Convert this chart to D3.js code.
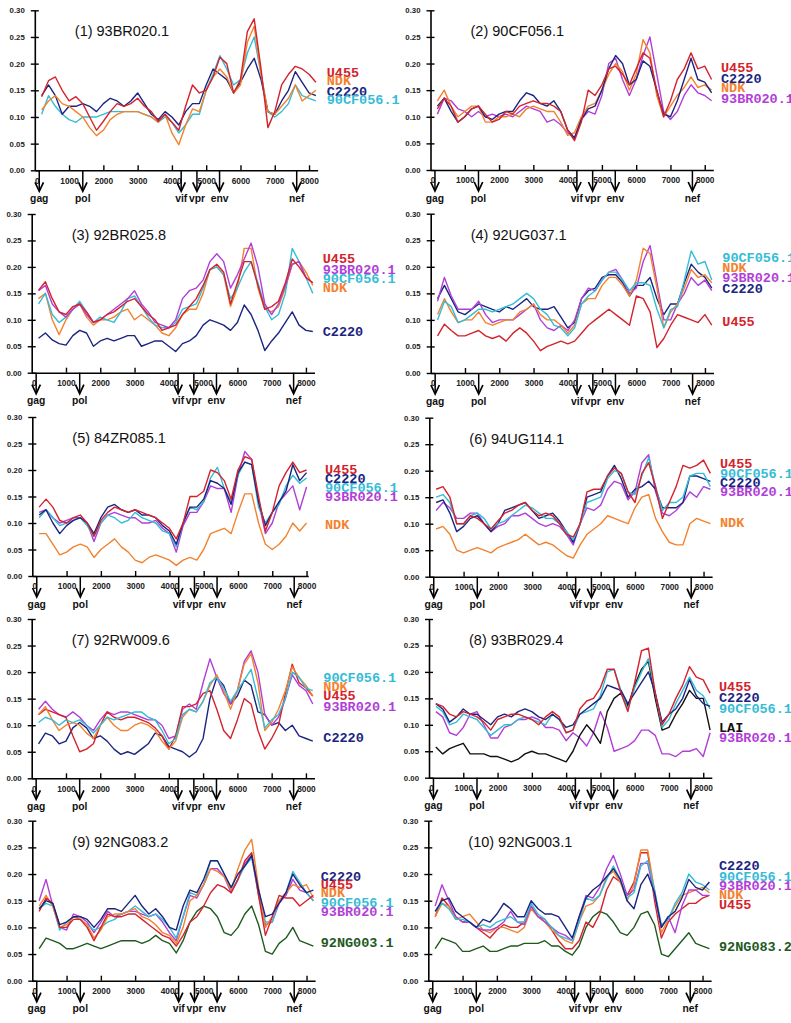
<!DOCTYPE html>
<html><head><meta charset="utf-8">
<script src="https://cdn.jsdelivr.net/npm/d3@7"></script>
<style>
html,body{margin:0;padding:0;background:#fff;}
svg{display:block;}
</style></head><body>
<svg id="chart" width="791" height="1023"></svg>
<script>
// ---------- sample positions (bp) ----------
const positions = [200,400,600,800,1000,1200,1400,1600,1800,2000,2200,2400,2600,2800,3000,3200,3400,3600,3800,4000,4200,4400,4600,4800,5000,5200,5400,5600,5800,6000,6200,6400,6600,6800,7000,7200,7400,7600,7800,8000,8200];
const xTicks = [0,1000,2000,3000,4000,5000,6000,7000,8000];
const yTicks = [0,0.05,0.10,0.15,0.20,0.25,0.30];
const genes = ["gag","pol","vif","vpr","env","nef"];
const genePos = [130,1400,4270,4730,5390,7640];

// ---------- panel 1: 93BR020.1 ----------
const p1_U455 = [.138,.168,.175,.150,.130,.138,.125,.100,.075,.092,.110,.125,.120,.125,.135,.120,.110,.092,.105,.090,.075,.120,.160,.145,.150,.175,.212,.200,.145,.170,.260,.284,.190,.080,.110,.160,.180,.195,.190,.180,.165];
const p1_NDK = [.113,.130,.140,.125,.120,.110,.100,.080,.065,.075,.095,.105,.110,.110,.110,.105,.100,.090,.105,.070,.048,.085,.115,.110,.150,.175,.190,.175,.145,.160,.240,.270,.180,.110,.105,.120,.135,.160,.130,.140,.150];
const p1_C2220 = [.140,.160,.140,.105,.120,.120,.125,.120,.110,.125,.135,.130,.120,.130,.145,.125,.105,.095,.110,.100,.085,.110,.125,.125,.160,.190,.180,.170,.145,.165,.190,.210,.170,.110,.105,.130,.150,.185,.165,.145,.140];
const p1_90CF = [.105,.140,.120,.105,.095,.090,.100,.100,.100,.105,.110,.110,.110,.110,.110,.105,.100,.090,.100,.090,.070,.085,.105,.105,.150,.180,.215,.190,.160,.170,.220,.250,.180,.110,.100,.110,.125,.160,.140,.135,.130];

// ---------- panel 2: 90CF056.1 ----------
const p2_U455 = [.115,.135,.120,.090,.100,.115,.120,.105,.090,.095,.110,.105,.120,.125,.130,.125,.125,.120,.110,.075,.055,.090,.150,.140,.160,.190,.195,.180,.160,.190,.220,.210,.150,.100,.130,.170,.190,.220,.190,.195,.170];
const p2_C2220 = [.120,.135,.110,.090,.100,.115,.120,.100,.095,.105,.110,.110,.130,.145,.140,.125,.120,.130,.110,.075,.060,.095,.115,.120,.150,.190,.215,.200,.160,.170,.205,.195,.150,.105,.100,.130,.170,.210,.170,.165,.145];
const p2_NDK = [.130,.150,.120,.100,.110,.120,.120,.090,.090,.100,.100,.105,.100,.115,.120,.115,.110,.110,.090,.065,.070,.100,.120,.125,.150,.180,.200,.185,.150,.180,.245,.220,.140,.100,.120,.140,.155,.175,.155,.160,.150];
const p2_93BR = [.105,.135,.130,.115,.110,.100,.110,.100,.105,.100,.105,.100,.110,.120,.115,.110,.090,.095,.085,.070,.060,.095,.110,.105,.140,.200,.210,.170,.140,.170,.215,.250,.180,.110,.095,.110,.140,.160,.145,.140,.130];

// ---------- panel 3: 92BR025.8 ----------
const p3_U455 = [.156,.172,.140,.115,.110,.125,.130,.115,.095,.100,.110,.115,.125,.135,.140,.125,.110,.100,.080,.085,.090,.110,.125,.140,.165,.195,.205,.190,.130,.170,.210,.210,.165,.120,.125,.135,.170,.215,.200,.180,.170];
const p3_93BR = [.155,.165,.130,.115,.105,.120,.130,.110,.095,.100,.110,.120,.130,.140,.155,.130,.115,.095,.090,.085,.100,.140,.155,.160,.175,.210,.225,.210,.160,.185,.215,.245,.200,.130,.110,.130,.165,.205,.210,.180,.170];
const p3_90CF = [.130,.150,.110,.095,.105,.120,.135,.115,.095,.105,.100,.095,.115,.140,.145,.125,.105,.090,.085,.085,.095,.120,.125,.130,.160,.195,.200,.185,.140,.160,.190,.210,.170,.125,.100,.110,.150,.235,.210,.180,.150];
const p3_NDK = [.140,.150,.100,.072,.100,.120,.130,.105,.090,.100,.100,.105,.115,.120,.100,.110,.100,.090,.075,.070,.085,.110,.120,.120,.150,.195,.200,.185,.125,.160,.235,.235,.160,.120,.115,.125,.160,.205,.210,.190,.165];
const p3_C2220 = [.065,.075,.062,.055,.052,.070,.080,.075,.050,.060,.065,.060,.065,.070,.070,.050,.055,.060,.060,.050,.040,.055,.060,.070,.090,.100,.095,.090,.080,.095,.128,.110,.080,.042,.060,.075,.095,.115,.090,.080,.078];

// ---------- panel 4: 92UG037.1 ----------
const p4_90CF = [.100,.135,.125,.095,.100,.110,.120,.120,.115,.120,.125,.130,.140,.150,.140,.120,.110,.090,.085,.070,.085,.130,.145,.155,.175,.190,.190,.175,.155,.170,.170,.165,.120,.085,.120,.125,.175,.230,.205,.210,.175];
const p4_NDK = [.110,.140,.115,.095,.100,.100,.115,.095,.090,.095,.100,.100,.115,.120,.130,.110,.100,.100,.090,.075,.090,.130,.140,.140,.165,.180,.180,.165,.145,.175,.235,.225,.160,.085,.115,.130,.160,.195,.180,.185,.170];
const p4_93BR = [.135,.180,.145,.120,.120,.120,.135,.110,.095,.100,.100,.100,.110,.120,.130,.100,.085,.080,.090,.080,.100,.140,.160,.155,.175,.190,.195,.175,.150,.160,.210,.240,.170,.100,.100,.130,.150,.180,.165,.175,.155];
const p4_C2220 = [.140,.165,.140,.115,.110,.120,.130,.125,.120,.115,.125,.120,.130,.140,.125,.120,.120,.125,.105,.085,.095,.140,.155,.160,.180,.185,.185,.170,.145,.165,.165,.180,.140,.110,.130,.130,.170,.205,.190,.180,.160];
const p4_U455 = [.070,.092,.080,.070,.070,.075,.080,.070,.065,.070,.060,.075,.085,.075,.060,.042,.050,.055,.060,.055,.060,.075,.090,.100,.110,.120,.110,.100,.090,.145,.140,.115,.048,.065,.090,.110,.105,.100,.095,.110,.090];

// ---------- panel 5: 84ZR085.1 ----------
const p5_U455 = [.130,.145,.130,.105,.100,.110,.115,.100,.075,.105,.120,.130,.125,.120,.125,.120,.115,.110,.100,.090,.070,.100,.150,.150,.160,.200,.195,.180,.145,.200,.225,.220,.150,.085,.120,.170,.195,.215,.195,.200];
const p5_C2220 = [.115,.125,.100,.080,.095,.105,.110,.100,.080,.110,.130,.135,.125,.120,.125,.115,.115,.110,.095,.085,.060,.100,.130,.130,.145,.180,.175,.165,.135,.195,.215,.210,.140,.095,.120,.140,.160,.210,.180,.195];
const p5_90CF = [.110,.125,.110,.095,.100,.105,.110,.095,.075,.100,.115,.110,.100,.105,.120,.110,.105,.100,.085,.080,.055,.100,.130,.125,.140,.185,.205,.165,.140,.190,.215,.210,.130,.100,.120,.135,.170,.190,.175,.185];
const p5_93BR = [.120,.125,.110,.100,.105,.110,.110,.100,.065,.100,.115,.120,.115,.110,.110,.100,.100,.105,.090,.080,.045,.095,.120,.120,.140,.170,.165,.165,.120,.190,.235,.220,.140,.080,.100,.140,.155,.170,.125,.168];
const p5_NDK = [.080,.080,.060,.040,.045,.055,.060,.055,.035,.050,.060,.070,.055,.045,.030,.025,.035,.040,.035,.030,.020,.030,.035,.030,.050,.080,.085,.090,.080,.120,.155,.155,.100,.060,.050,.060,.075,.100,.085,.100];

// ---------- panel 6: 94UG114.1 ----------
const p6_U455 = [.165,.170,.150,.100,.100,.115,.110,.100,.090,.105,.120,.125,.135,.140,.125,.115,.120,.115,.100,.080,.075,.100,.160,.165,.165,.190,.205,.195,.160,.140,.195,.215,.170,.110,.140,.170,.210,.205,.210,.220,.195];
const p6_90CF = [.150,.155,.140,.100,.100,.115,.120,.110,.090,.100,.105,.115,.125,.135,.130,.120,.110,.110,.100,.085,.070,.100,.140,.145,.150,.185,.200,.195,.160,.155,.190,.225,.170,.125,.140,.140,.150,.190,.195,.195,.170];
const p6_C2220 = [.140,.145,.120,.085,.095,.110,.115,.100,.085,.100,.125,.130,.135,.140,.125,.110,.115,.120,.105,.085,.065,.100,.150,.155,.160,.190,.210,.185,.150,.165,.170,.180,.165,.130,.130,.130,.140,.190,.190,.185,.180];
const p6_93BR = [.125,.140,.130,.110,.110,.120,.120,.100,.085,.095,.100,.115,.115,.120,.110,.100,.095,.100,.095,.080,.060,.100,.130,.125,.135,.165,.180,.175,.145,.160,.215,.230,.160,.120,.115,.125,.140,.160,.150,.170,.165];
const p6_NDK = [.090,.095,.080,.050,.045,.050,.055,.050,.045,.055,.060,.065,.070,.080,.070,.060,.065,.060,.050,.040,.035,.060,.080,.090,.100,.115,.110,.105,.100,.130,.150,.155,.110,.085,.065,.060,.060,.100,.110,.105,.100];

// ---------- panel 7: 92RW009.6 ----------
const p7_90CF = [.105,.115,.110,.100,.110,.105,.110,.100,.085,.100,.115,.110,.115,.120,.125,.125,.115,.110,.090,.065,.075,.120,.130,.125,.145,.180,.190,.170,.145,.165,.185,.205,.150,.095,.110,.120,.150,.200,.190,.170,.165];
const p7_NDK = [.120,.135,.110,.090,.100,.105,.100,.085,.075,.100,.115,.100,.090,.090,.100,.105,.100,.090,.070,.055,.070,.115,.130,.125,.145,.175,.195,.165,.130,.165,.215,.235,.180,.090,.105,.130,.165,.210,.190,.175,.155];
const p7_U455 = [.120,.130,.125,.120,.115,.080,.050,.055,.065,.100,.125,.115,.110,.115,.115,.110,.105,.095,.080,.055,.080,.135,.135,.140,.160,.165,.130,.090,.075,.110,.150,.140,.090,.055,.075,.100,.160,.215,.180,.170,.155];
const p7_93BR = [.130,.145,.130,.120,.115,.125,.115,.100,.090,.110,.125,.120,.125,.125,.120,.115,.110,.110,.100,.075,.080,.130,.140,.130,.180,.225,.190,.160,.140,.165,.220,.240,.200,.120,.100,.115,.150,.195,.175,.165,.140];
const p7_C2220 = [.065,.085,.080,.065,.070,.095,.105,.095,.075,.080,.070,.055,.045,.050,.045,.055,.065,.085,.080,.060,.055,.050,.040,.050,.075,.150,.190,.175,.140,.155,.185,.175,.125,.120,.100,.105,.090,.100,.080,.075,.070];

// ---------- panel 8: 93BR029.4 ----------
const p8_U455 = [.140,.135,.120,.115,.125,.120,.115,.105,.090,.110,.115,.120,.120,.115,.110,.100,.115,.125,.115,.085,.090,.130,.145,.150,.170,.205,.205,.160,.125,.180,.240,.245,.160,.100,.120,.150,.175,.210,.190,.185,.160];
const p8_C2220 = [.140,.130,.105,.115,.130,.120,.120,.110,.100,.115,.120,.115,.125,.130,.125,.115,.110,.120,.110,.095,.100,.120,.130,.140,.150,.175,.170,.165,.140,.160,.180,.200,.160,.105,.120,.130,.150,.185,.155,.140,.135];
const p8_90CF = [.135,.125,.100,.105,.120,.115,.110,.095,.080,.090,.100,.100,.110,.115,.110,.105,.100,.120,.110,.085,.090,.120,.125,.130,.155,.200,.205,.165,.130,.170,.200,.225,.160,.095,.110,.140,.165,.190,.165,.155,.130];
const p8_LAI = [.058,.045,.055,.060,.065,.045,.045,.045,.040,.040,.035,.030,.035,.045,.050,.045,.045,.040,.035,.030,.050,.080,.100,.085,.065,.125,.150,.160,.135,.175,.205,.220,.150,.090,.095,.120,.140,.165,.150,.150,.090];
const p8_93BR = [.125,.115,.085,.080,.095,.120,.125,.100,.075,.075,.095,.100,.110,.110,.115,.110,.095,.095,.090,.070,.085,.075,.060,.085,.125,.095,.050,.055,.060,.070,.090,.090,.080,.045,.045,.040,.050,.050,.055,.040,.085];

// ---------- panel 9: 92NG083.2 ----------
const p9_C2220 = [.135,.150,.145,.105,.110,.120,.120,.115,.100,.115,.135,.135,.130,.145,.160,.140,.125,.135,.120,.100,.095,.140,.170,.165,.190,.225,.225,.200,.175,.200,.215,.235,.170,.120,.125,.145,.165,.200,.180,.165,.170];
const p9_U455 = [.130,.155,.145,.100,.100,.115,.115,.100,.075,.100,.125,.120,.120,.125,.125,.115,.105,.095,.085,.080,.065,.085,.110,.120,.140,.165,.180,.175,.165,.190,.225,.240,.160,.085,.120,.160,.155,.155,.140,.150,.160];
const p9_NDK = [.140,.160,.140,.100,.105,.120,.115,.105,.080,.095,.120,.125,.125,.130,.135,.120,.115,.105,.090,.085,.070,.100,.150,.160,.180,.210,.205,.195,.170,.210,.245,.265,.175,.100,.120,.150,.165,.180,.175,.180,.155];
const p9_90CF = [.135,.145,.140,.095,.110,.120,.115,.105,.095,.100,.110,.115,.125,.130,.140,.130,.120,.125,.115,.100,.080,.120,.165,.160,.180,.225,.225,.200,.170,.190,.215,.230,.165,.110,.110,.150,.165,.205,.185,.165,.150];
const p9_93BR = [.150,.190,.140,.100,.095,.125,.120,.110,.090,.110,.130,.120,.125,.130,.130,.125,.120,.125,.110,.090,.075,.120,.160,.155,.180,.210,.210,.195,.165,.190,.220,.235,.160,.105,.110,.145,.160,.190,.170,.165,.150];
const p9_NG003 = [.060,.080,.075,.070,.060,.060,.065,.070,.065,.060,.065,.070,.075,.075,.075,.070,.075,.085,.075,.070,.052,.075,.110,.130,.140,.135,.120,.090,.085,.100,.125,.140,.105,.055,.050,.070,.080,.100,.075,.070,.065];

// ---------- panel 10: 92NG003.1 ----------
const p10_C2220 = [.130,.150,.155,.130,.120,.110,.100,.115,.110,.125,.145,.135,.120,.120,.150,.135,.125,.125,.120,.100,.080,.120,.155,.170,.180,.195,.210,.190,.150,.135,.180,.200,.165,.100,.120,.130,.155,.190,.175,.170,.185];
const p10_90CF = [.130,.145,.135,.115,.115,.110,.100,.105,.100,.110,.115,.120,.110,.110,.145,.125,.115,.100,.085,.080,.075,.110,.155,.150,.160,.190,.215,.190,.155,.165,.215,.225,.170,.105,.115,.145,.165,.200,.185,.180,.170];
const p10_93BR = [.140,.180,.150,.120,.110,.110,.100,.095,.095,.100,.110,.130,.110,.105,.140,.120,.110,.100,.090,.085,.075,.120,.160,.155,.175,.210,.235,.200,.160,.170,.220,.220,.160,.100,.120,.090,.140,.170,.170,.160,.160];
const p10_NDK = [.120,.145,.140,.115,.120,.125,.110,.095,.090,.100,.100,.095,.090,.100,.135,.120,.110,.095,.085,.075,.070,.110,.140,.145,.160,.195,.205,.185,.150,.180,.245,.245,.170,.090,.115,.140,.160,.165,.170,.175,.165];
const p10_U455 = [.120,.155,.140,.120,.110,.110,.100,.090,.080,.095,.105,.100,.100,.110,.140,.120,.115,.095,.075,.060,.060,.075,.110,.100,.125,.170,.195,.185,.160,.185,.240,.240,.150,.080,.110,.125,.135,.145,.145,.155,.160];
const p10_NG083 = [.060,.080,.075,.070,.055,.055,.060,.065,.055,.055,.060,.065,.065,.070,.070,.070,.075,.065,.065,.055,.048,.065,.100,.120,.130,.125,.110,.090,.085,.100,.125,.130,.105,.050,.045,.060,.075,.090,.070,.065,.060];

// ---------- titles & series names ----------
const titles = ["(1) 93BR020.1","(2) 90CF056.1","(3) 92BR025.8","(4) 92UG037.1","(5) 84ZR085.1","(6) 94UG114.1","(7) 92RW009.6","(8) 93BR029.4","(9) 92NG083.2","(10) 92NG003.1"];
const seriesNames = [
  ["U455","NDK","C2220","90CF056.1"],
  ["U455","C2220","NDK","93BR020.1"],
  ["U455","93BR020.1","90CF056.1","NDK","C2220"],
  ["90CF056.1","NDK","93BR020.1","C2220","U455"],
  ["U455","C2220","90CF056.1","93BR020.1","NDK"],
  ["U455","90CF056.1","C2220","93BR020.1","NDK"],
  ["90CF056.1","NDK","U455","93BR020.1","C2220"],
  ["U455","C2220","90CF056.1","LAI","93BR020.1"],
  ["C2220","U455","NDK","90CF056.1","93BR020.1","92NG003.1"],
  ["C2220","90CF056.1","93BR020.1","NDK","U455","92NG083.2"]
];
const seriesValues = [
  [p1_U455,p1_NDK,p1_C2220,p1_90CF],
  [p2_U455,p2_C2220,p2_NDK,p2_93BR],
  [p3_U455,p3_93BR,p3_90CF,p3_NDK,p3_C2220],
  [p4_90CF,p4_NDK,p4_93BR,p4_C2220,p4_U455],
  [p5_U455,p5_C2220,p5_90CF,p5_93BR,p5_NDK],
  [p6_U455,p6_90CF,p6_C2220,p6_93BR,p6_NDK],
  [p7_90CF,p7_NDK,p7_U455,p7_93BR,p7_C2220],
  [p8_U455,p8_C2220,p8_90CF,p8_LAI,p8_93BR],
  [p9_C2220,p9_U455,p9_NDK,p9_90CF,p9_93BR,p9_NG003],
  [p10_C2220,p10_90CF,p10_93BR,p10_NDK,p10_U455,p10_NG083]
];

// ---------- styles & layout ----------
const colors = {"U455":"#d4232c","NDK":"#f3822e","C2220":"#1b2580","90CF056.1":"#35bcd6","93BR020.1":"#b23ed8","LAI":"#111111","92NG003.1":"#1e5a1e","92NG083.2":"#1e5a1e"};
const pxPerBp = 0.03428;
const layout = [
  {x0:34.8, yTop:10.3, y0:170.3, xMax:8250, lx:326.7, ly:[77,85,96.3,103.5]},
  {x0:430.5,yTop:10.3, y0:170.0, xMax:8250, lx:721,   ly:[72.3,83.3,91.7,103.3]},
  {x0:31.7, yTop:214,  y0:372.7, xMax:8250, lx:322.7, ly:[263.3,274,283.3,292.3,336]},
  {x0:430.7,yTop:213.7,y0:373.0, xMax:8250, lx:722.3, ly:[261.7,271.7,281.7,293.3,326]},
  {x0:32.3, yTop:417,  y0:576.0, xMax:8050, lx:325,   ly:[474,483.3,492.3,501,529.3]},
  {x0:429.3,yTop:417.7,y0:576.7, xMax:8250, lx:720,   ly:[468.3,477.7,487.3,496,526.7]},
  {x0:31.7, yTop:619,  y0:778.3, xMax:8250, lx:323.3, ly:[682.3,691,700,711,742.3]},
  {x0:429,  yTop:619,  y0:777.7, xMax:8250, lx:719,   ly:[691,701.7,713.3,731.7,741.7]},
  {x0:32.3, yTop:820.7,y0:980.7, xMax:8250, lx:320.7, ly:[880.7,889.3,897.3,906.7,916,947.3]},
  {x0:428.3,yTop:820.7,y0:980.7, xMax:8250, lx:719,   ly:[870,881,890,899.3,909,950.7]}
];

const svg = d3.select("#chart");
svg.append("rect").attr("width",791).attr("height",1023).attr("fill","#fff");

layout.forEach((L, pi) => {
  const g = svg.append("g");
  const x = d3.scaleLinear().domain([0, L.xMax]).range([L.x0, L.x0 + L.xMax * pxPerBp]);
  const y = d3.scaleLinear().domain([0, 0.30]).range([L.y0, L.yTop]);

  // y axis
  const ya = g.append("g").attr("transform", `translate(${L.x0},0)`)
    .call(d3.axisLeft(y).tickValues(yTicks).tickFormat(d3.format(".2f")).tickSizeOuter(0).tickSizeInner(4).tickPadding(6));
  ya.select(".domain").attr("stroke","#000").attr("stroke-width",1.6);
  ya.selectAll(".tick line").attr("x1",4).attr("x2",-4).attr("stroke","#000").attr("stroke-width",1.4);
  ya.selectAll(".tick text").attr("font-family","Liberation Sans, Arial, sans-serif").attr("font-size",7.8).attr("font-weight","bold").attr("fill","#222");

  // x axis
  const xa = g.append("g").attr("transform", `translate(0,${L.y0})`)
    .call(d3.axisBottom(x).tickValues(xTicks).tickFormat(d3.format("d")).tickSizeOuter(0).tickSizeInner(0).tickPadding(7.5));
  xa.select(".domain").attr("stroke","#000").attr("stroke-width",1.6);
  xa.selectAll(".tick line").attr("y1",0).attr("y2", d => d === 0 ? 0 : -5).attr("stroke","#000").attr("stroke-width",1.4);
  xa.selectAll(".tick text").attr("font-family","Liberation Sans, Arial, sans-serif").attr("font-size",8.3).attr("font-weight","bold").attr("fill","#222")
    .attr("dx", d => d === 0 ? 2 : 0);

  // gene arrows
  genes.forEach((name, gi) => {
    const gx = x(genePos[gi]);
    g.append("line").attr("x1",gx).attr("x2",gx).attr("y1",L.y0).attr("y2",L.y0+20)
      .attr("stroke","#000").attr("stroke-width",1.5);
    g.append("path").attr("d",`M${gx-4.2},${L.y0+12} L${gx},${L.y0+21} L${gx+4.2},${L.y0+12}`)
      .attr("fill","none").attr("stroke","#000").attr("stroke-width",1.7).attr("stroke-linejoin","miter");
    g.append("text").attr("x",gx).attr("y",L.y0+31.5).attr("text-anchor","middle")
      .attr("font-family","Liberation Sans, Arial, sans-serif").attr("font-size",10.3).attr("font-weight","bold")
      .attr("fill","#111").text(name);
  });

  // title
  g.append("text").attr("x", L.x0 + 40).attr("y", L.yTop + 26)
    .attr("font-family","Liberation Sans, Arial, sans-serif").attr("font-size",14.5).attr("fill","#111")
    .text(titles[pi]);

  // lines (draw in reverse so first-listed series is on top)
  const line = d3.line().x(d => x(d[0])).y(d => y(d[1]));
  const names = seriesNames[pi];
  const vals = seriesValues[pi];
  for (let si = names.length - 1; si >= 0; si--) {
    const pts = vals[si].map((v, i) => [positions[i], v]);
    g.append("path").datum(pts).attr("d", line)
      .attr("fill","none").attr("stroke", colors[names[si]]).attr("stroke-width",1.4)
      .attr("stroke-linejoin","round");
  }

  // labels
  names.forEach((n, si) => {
    g.append("text").attr("x", L.lx).attr("y", L.ly[si])
      .attr("font-family","Liberation Mono, Courier New, monospace").attr("font-size",13.5).attr("font-weight","bold")
      .attr("fill", colors[n]).text(n);
  });
});
</script>
</body></html>
